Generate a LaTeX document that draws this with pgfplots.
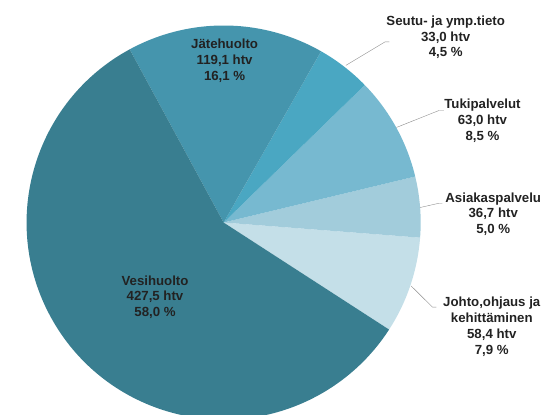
\documentclass[border=0pt]{standalone}
\usepackage{fontspec}
\setmainfont{Liberation Sans}
\usepackage{pgfplots}
\usepackage{pgfplotstable}
\pgfplotsset{compat=1.18}

\definecolor{slice0}{HTML}{C4DFE8}
\definecolor{slice1}{HTML}{A2CCDB}
\definecolor{slice2}{HTML}{77B9D0}
\definecolor{slice3}{HTML}{4AA7C2}
\definecolor{slice4}{HTML}{4595AD}
\definecolor{slice5}{HTML}{397E90}
\definecolor{leader}{HTML}{8C8C8C}
\definecolor{labeltext}{HTML}{222222}

% slices counterclockwise, starting at the Johto/Vesihuolto edge
\pgfplotstableread{
name htv
Johto 58.4
Asiakaspalvelu 36.7
Tukipalvelut 63.0
Seutu 33.0
Jatehuolto 119.1
Vesihuolto 427.5
}\piedata

\begin{document}
\def\pietotal{0}
\pgfplotsforeachungrouped \i in {0,...,5}{%
  \pgfplotstablegetelem{\i}{htv}\of\piedata
  \pgfmathsetmacro\pietotal{\pietotal+\pgfplotsretval}%
}
\def\pieangle{-32.9}
\pgfplotsforeachungrouped \i in {0,...,5}{%
  \pgfplotstablegetelem{\i}{htv}\of\piedata
  \pgfmathsetmacro\slicespan{\pgfplotsretval/\pietotal*360}%
  \expandafter\xdef\csname from\i\endcsname{\pieangle}%
  \pgfmathsetmacro\pieangle{\pieangle+\slicespan}%
  \expandafter\xdef\csname to\i\endcsname{\pieangle}%
}
\begin{tikzpicture}[
    lbl/.style={font={\fontsize{13.5}{16}\selectfont\bfseries},
        text=labeltext, align=center, inner sep=0pt},
]
\begin{axis}[
    at={(0,0)}, anchor=south west,
    x=1pt, y=1pt,
    xmin=0, xmax=555, ymin=0, ymax=423,
    hide axis,
    clip=true,
]
% frame the picture to exactly the plot area
\addplot[draw=none] coordinates {(0,0) (555,423)};
% bezier control points of the arcs would widen the page: keep them out
\pgfplotsinvokeforeach{0,...,5}{
  \fill[slice#1, overlay] (axis cs:217,196) -- +(\csname from#1\endcsname:201pt)
    arc[start angle=\csname from#1\endcsname, end angle=\csname to#1\endcsname, radius=201pt] -- cycle;
}

\addplot[leader, thin] coordinates {(341.7,356.3) (381.7,380.3) (386,380.3)};
\addplot[leader, thin] coordinates {(393.3,293) (436.7,310.3) (441.7,310.3)};
\addplot[leader, thin] coordinates {(417.3,211.3) (436.7,215.7) (440,215.7)};
\addplot[leader, thin] coordinates {(408.3,131.3) (430,109.7) (434,109.7)};

\node[lbl] at (axis cs:218,361) {Jätehuolto\\119,1 htv\\16,1 \%};
\node[lbl] at (axis cs:443.5,385) {Seutu- ja ymp.tieto\\33,0 htv\\4,5 \%};
\node[lbl] at (axis cs:481,300) {Tukipalvelut\\63,0 htv\\8,5 \%};
\node[lbl] at (axis cs:492,204.7) {Asiakaspalvelu\\36,7 htv\\5,0 \%};
\node[lbl] at (axis cs:490.5,89.7) {Johto,ohjaus ja\\kehittäminen\\58,4 htv\\7,9 \%};
\node[lbl] at (axis cs:147,120) {Vesihuolto\\427,5 htv\\58,0 \%};
\end{axis}
\end{tikzpicture}
\end{document}
